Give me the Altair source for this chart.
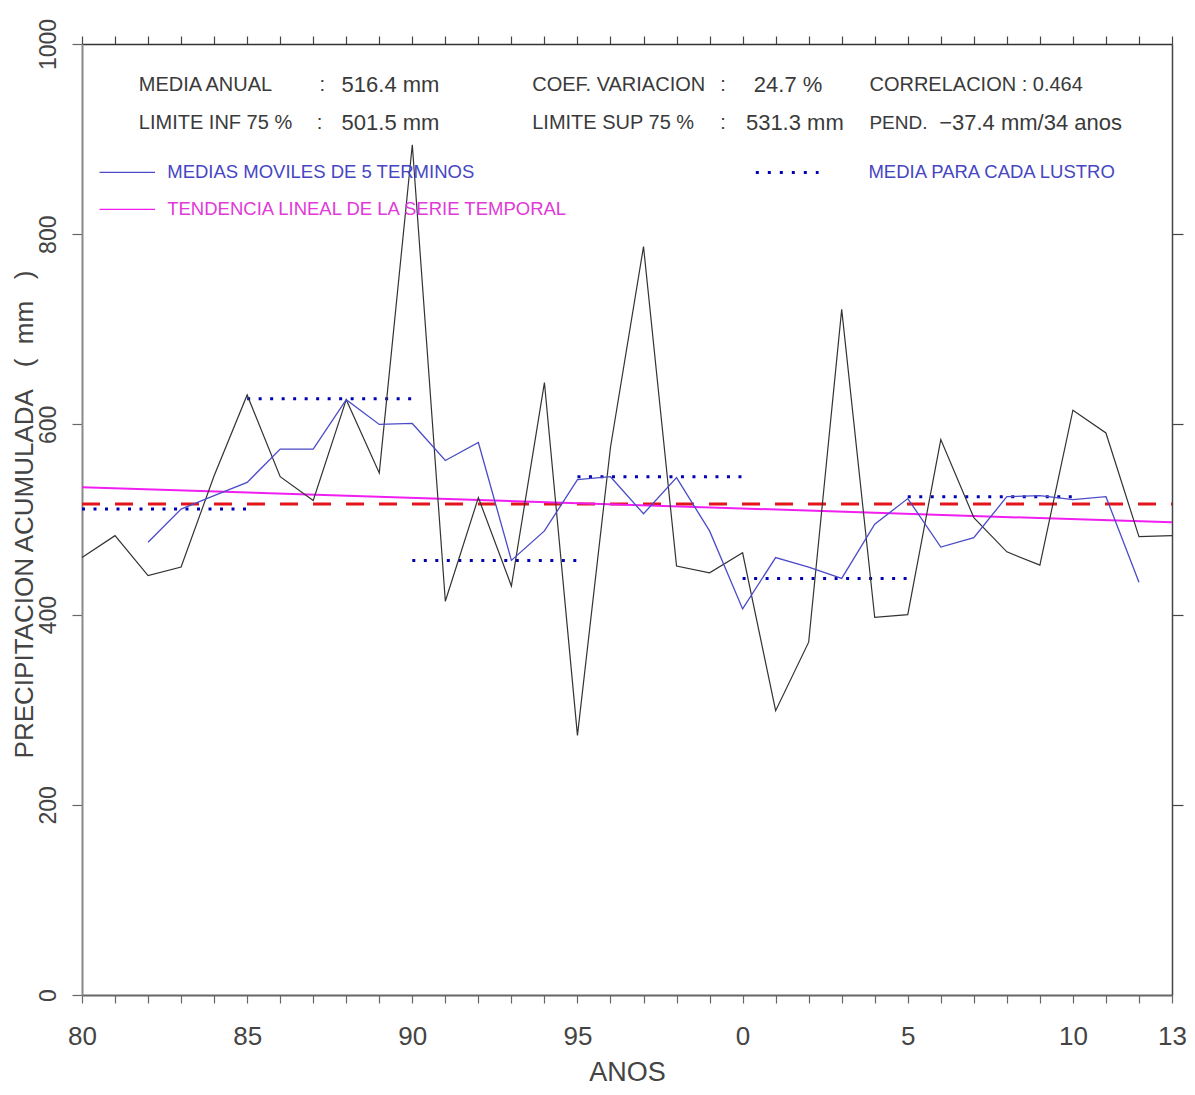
import altair as alt
import pandas as pd

# ---------------- data ----------------
years = list(range(1980, 2014))
precip = [460, 483, 441, 450, 546, 631, 545, 520, 626, 549,
          894, 414, 523, 430, 644, 273, 576, 787, 451, 444,
          465, 299, 371, 721, 397, 400, 584, 502, 466, 452,
          615, 591, 482, 483]

ma_years = list(range(1982, 2013))
ma_vals = [476, 511, 525, 539, 574, 574, 626, 600, 601, 562,
           581, 457, 488, 542, 545, 506, 544, 488, 406, 460,
           450, 438, 495, 522, 471, 481, 524, 525, 521, 524,
           434]

lustro_start = [1980, 1985, 1990, 1995, 2000, 2005]
lustro_end = [1985, 1990, 1995, 2000, 2005, 2010]
lustro_mean = [511, 627, 457, 545, 438, 524]

mean_annual = 516.4
trend_years = [1980, 2013]
trend_vals = [534, 497]

x_label_years = [1980, 1985, 1990, 1995, 2000, 2005, 2010, 2013]
y_ticks = [0, 200, 400, 600, 800, 1000]
y_ticks_right = [200, 400, 600, 800]

FONT = "Liberation Sans, Arial, sans-serif"
TXT = "#3a3a3a"
NB = "\u00a0"

# ---------------- scales & axes ----------------
X = alt.Scale(domain=[1980, 2013], nice=False, zero=False)
Y = alt.Scale(domain=[0, 1000], nice=False)

label_list = ",".join(str(v) for v in x_label_years)
bottom_axis = alt.Axis(
    orient="bottom", values=years, tickSize=8, tickColor="#666666", tickWidth=1.2,
    domainColor="#666666", domainWidth=2, grid=False,
    labelExpr=f"indexof([{label_list}], datum.value) >= 0 ? toString(datum.value % 100) : ''",
    labelFont=FONT, labelFontSize=26, labelColor="#444444", labelPadding=20,
    labelFlush=False, labelOverlap=False,
    title="ANOS", titleFont=FONT, titleFontSize=27, titleFontWeight="normal",
    titleColor="#444444", titlePadding=10,
)
left_axis = alt.Axis(
    orient="left", values=y_ticks, format="d", tickSize=10, tickColor="#666666",
    tickWidth=1.2, domainColor="#888888", domainWidth=2, grid=False,
    labelAngle=270, labelAlign="center", labelBaseline="bottom", labelPadding=12,
    labelFont=FONT, labelFontSize=23, labelColor="#444444", labelFlush=False,
    labelOverlap=False,
    title="PRECIPITACION ACUMULADA" + NB * 3 + "(" + NB * 2 + "mm" + NB * 3 + ")",
    titleFont=FONT, titleFontSize=26, titleFontWeight="normal", titleColor="#444444",
    titleAngle=270, titleAlign="center", titleBaseline="middle",
    titleX=-58, titleY=470,
)
top_axis = alt.Axis(
    orient="top", values=years, tickSize=8, tickColor="#444444", tickWidth=1.2,
    domainColor="#333333", domainWidth=1.5, labels=False, title=None, grid=False,
)
right_axis = alt.Axis(
    orient="right", values=y_ticks_right, tickSize=11, tickColor="#444444",
    tickWidth=1.2, domainColor="#444444", domainWidth=1.5, labels=False,
    title=None, grid=False,
)

# ---------------- tables ----------------
df = pd.DataFrame({"year": years, "precip": precip})
df_ma = pd.DataFrame({"year": ma_years, "ma": ma_vals})
df_lustro = pd.DataFrame({"x": lustro_start, "x2": lustro_end, "y": lustro_mean})
df_mean = pd.DataFrame({"x": [years[0]], "x2": [years[-1]], "y": [mean_annual]})
df_trend = pd.DataFrame({"year": trend_years, "v": trend_vals})

# ---------------- layers ----------------
red = alt.Chart(df_mean).mark_rule(color="#e3141a", strokeWidth=3, strokeDash=[18, 15]).encode(
    x=alt.X("x:Q", scale=X, axis=None), x2="x2:Q", y=alt.Y("y:Q", scale=Y, axis=None))

lustro = alt.Chart(df_lustro).mark_rule(color="#0000b4", strokeWidth=3, strokeDash=[3, 8.5]).encode(
    x=alt.X("x:Q", scale=X, axis=None), x2="x2:Q", y=alt.Y("y:Q", scale=Y, axis=None))

trend = alt.Chart(df_trend).mark_line(color="#f01ef0", strokeWidth=2).encode(
    x=alt.X("year:Q", scale=X, axis=None), y=alt.Y("v:Q", scale=Y, axis=None))

black = alt.Chart(df).mark_line(color="#333333", strokeWidth=1.2).encode(
    x=alt.X("year:Q", scale=X, axis=bottom_axis),
    y=alt.Y("precip:Q", scale=Y, axis=left_axis))

ma = alt.Chart(df_ma).mark_line(color="#4b4bc8", strokeWidth=1.3).encode(
    x=alt.X("year:Q", scale=X, axis=top_axis),
    y=alt.Y("ma:Q", scale=Y, axis=right_axis))

# ---------------- annotations (placed in data units) ----------------
ROW1, ROW2, LEG1, LEG2 = 957, 917, 865, 826
stats = pd.DataFrame([
    (1981.72, ROW1, "MEDIA ANUAL", 20),
    (1987.19, ROW1, ":", 20),
    (1987.86, ROW1, "516.4 mm", 22),
    (1993.63, ROW1, "COEF. VARIACION", 20),
    (1999.32, ROW1, ":", 20),
    (2000.34, ROW1, "24.7 %", 22),
    (2003.84, ROW1, "CORRELACION : 0.464", 20),
    (1981.72, ROW2, "LIMITE INF 75 %", 20),
    (1987.11, ROW2, ":", 20),
    (1987.86, ROW2, "501.5 mm", 22),
    (1993.63, ROW2, "LIMITE SUP 75 %", 20),
    (1999.32, ROW2, ":", 20),
    (2000.10, ROW2, "531.3 mm", 22),
    (2003.84, ROW2, "PEND.", 19),
    (2005.95, ROW2, "\u221237.4 mm/34 anos", 22),
], columns=["x", "y", "text", "size"])

stats_layer = alt.Chart(stats).mark_text(
    align="left", baseline="middle", font=FONT, color=TXT).encode(
    x=alt.X("x:Q", scale=X, axis=None), y=alt.Y("y:Q", scale=Y, axis=None),
    text="text:N", size=alt.Size("size:Q", scale=None, legend=None))

leg_text = pd.DataFrame([
    (1982.58, LEG1, "MEDIAS MOVILES DE 5 TERMINOS", "#4646c2"),
    (1982.58, LEG2, "TENDENCIA LINEAL DE LA SERIE TEMPORAL", "#e03ad8"),
    (2003.81, LEG1, "MEDIA PARA CADA LUSTRO", "#4646c2"),
], columns=["x", "y", "text", "color"])
leg_text_layer = alt.Chart(leg_text).mark_text(
    align="left", baseline="middle", font=FONT, fontSize=18.5).encode(
    x=alt.X("x:Q", scale=X, axis=None), y=alt.Y("y:Q", scale=Y, axis=None),
    text="text:N", color=alt.Color("color:N", scale=None, legend=None))

leg_lines = pd.DataFrame([
    (1980.53, 1982.21, LEG1, "#4b4bc8"),
    (1980.53, 1982.21, LEG2, "#f01ef0"),
], columns=["x", "x2", "y", "color"])
leg_lines_layer = alt.Chart(leg_lines).mark_rule(strokeWidth=1.3).encode(
    x=alt.X("x:Q", scale=X, axis=None), x2="x2:Q",
    y=alt.Y("y:Q", scale=Y, axis=None),
    color=alt.Color("color:N", scale=None, legend=None))

leg_dots = pd.DataFrame({"x": [2000.40], "x2": [2002.30], "y": [LEG1]})
leg_dots_layer = alt.Chart(leg_dots).mark_rule(
    color="#0000b4", strokeWidth=3, strokeDash=[3, 9]).encode(
    x=alt.X("x:Q", scale=X, axis=None), x2="x2:Q",
    y=alt.Y("y:Q", scale=Y, axis=None))

chart = alt.layer(
    red, lustro, trend, black, ma,
    stats_layer, leg_text_layer, leg_lines_layer, leg_dots_layer,
).resolve_axis(x="independent", y="independent").properties(
    width=1090, height=951,
    autosize=alt.AutoSizeParams(type="none"),
    padding={"left": 74, "top": 36, "right": 15, "bottom": 92},
    background="white",
).configure_view(strokeWidth=0)

chart.save("out.html", embed_options={"renderer": "svg", "actions": False})
